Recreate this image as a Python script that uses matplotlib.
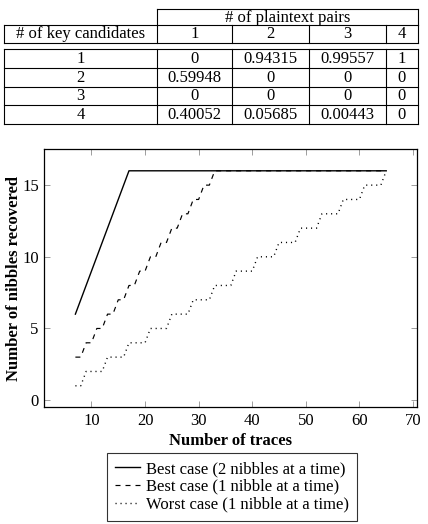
import matplotlib
matplotlib.use("Agg")
import matplotlib.pyplot as plt
from matplotlib.lines import Line2D

plt.rcParams["font.family"] = ["Liberation Serif", "DejaVu Serif"]
plt.rcParams["lines.scale_dashes"] = False

# ── table data ────────────────────────────────────────────────────────────────
col_group = "# of plaintext pairs"
row_header = "# of key candidates"
pair_counts = ["1", "2", "3", "4"]
key_counts = ["1", "2", "3", "4"]
probs = [
    ["0", "0.94315", "0.99557", "1"],
    ["0.59948", "0", "0", "0"],
    ["0", "0", "0", "0"],
    ["0.40052", "0.05685", "0.00443", "0"],
]

# ── curve data (traces -> nibbles recovered) ──────────────────────────────────
best2_x = [7, 8, 9, 10, 11, 12, 13, 14, 15, 16, 17, 65]
best2_y = [6, 7, 8, 9, 10, 11, 12, 13, 14, 15, 16, 16]

best1_x = [7, 8, 9, 10, 11, 12, 13, 14, 15, 16, 17, 18, 19, 20,
           21, 22, 23, 24, 25, 26, 27, 28, 29, 30, 31, 32, 33, 65]
best1_y = [3, 3, 4, 4, 5, 5, 6, 6, 7, 7, 8, 8, 9, 9,
           10, 10, 11, 11, 12, 12, 13, 13, 14, 14, 15, 15, 16, 16]

worst1_x = [7, 8, 9, 12, 13, 16, 17, 20, 21, 24, 25, 28, 29, 32, 33, 36,
            37, 40, 41, 44, 45, 48, 49, 52, 53, 56, 57, 60, 61, 64, 65]
worst1_y = [1, 1, 2, 2, 3, 3, 4, 4, 5, 5, 6, 6, 7, 7, 8, 8,
            9, 9, 10, 10, 11, 11, 12, 12, 13, 13, 14, 14, 15, 15, 16]

W, H = 428, 524
fig = plt.figure(figsize=(W / 100, H / 100), dpi=100)
FS = 12


def fx(px):
    return px / W


def fy(py):
    return 1 - py / H


def hline(y, x0, x1):
    fig.add_artist(Line2D([fx(x0), fx(x1)], [fy(y), fy(y)], color="black", lw=0.8,
                          transform=fig.transFigure))


def vline(x, y0, y1):
    fig.add_artist(Line2D([fx(x), fx(x)], [fy(y0), fy(y1)], color="black", lw=0.8,
                          transform=fig.transFigure))


# ── table ─────────────────────────────────────────────────────────────────────
xs = [4, 156.7, 232.3, 309, 385.7, 418.3]
hline(9, xs[1], xs[-1])
hline(25, xs[0], xs[-1])
hline(43.3, xs[0], xs[-1])
vline(xs[1], 9, 25)
vline(xs[-1], 9, 25)
for x in xs:
    vline(x, 25, 43.3)
fig.text(fx((xs[1] + xs[-1]) / 2), fy(17.5), col_group, ha="center", va="center", fontsize=FS)
fig.text(fx((xs[0] + xs[1]) / 2), fy(34.5), row_header, ha="center", va="center", fontsize=FS)
for i, lab in enumerate(pair_counts):
    fig.text(fx((xs[i + 1] + xs[i + 2]) / 2), fy(34.5), lab, ha="center", va="center", fontsize=FS)

row_lines = [49.3, 67.8, 86.5, 105.2, 123.9]
for y in row_lines:
    hline(y, xs[0], xs[-1])
for x in xs:
    vline(x, row_lines[0], row_lines[-1])
for r, lab in enumerate(key_counts):
    yc = (row_lines[r] + row_lines[r + 1]) / 2 + 0.5
    fig.text(fx((xs[0] + xs[1]) / 2), fy(yc), lab, ha="center", va="center", fontsize=FS)
    for c, val in enumerate(probs[r]):
        fig.text(fx((xs[c + 1] + xs[c + 2]) / 2), fy(yc), val, ha="center", va="center",
                 fontsize=FS)

# ── plot ──────────────────────────────────────────────────────────────────────
ax = fig.add_axes([fx(44.3), fy(407.3), fx(417.3) - fx(44.3), fy(149.3) - fy(407.3)])
l1, = ax.plot(best2_x, best2_y, color="black", lw=1.0)
l2, = ax.plot(best1_x, best1_y, color="black", lw=0.85, dashes=(3.6, 3.6))
l3, = ax.plot(worst1_x, worst1_y, color="black", lw=1.0, dashes=(0.8, 2.8))

ax.set_xlim(1.2, 70.8)
ax.set_ylim(-0.5, 17.5)
ax.set_xticks([10, 20, 30, 40, 50, 60, 70])
ax.set_yticks([0, 5, 10, 15])
ax.tick_params(direction="in", length=4, width=0.5, color="#777777", labelsize=FS,
               top=True, right=True, pad=4)
for s in ax.spines.values():
    s.set_linewidth(0.9)
ax.set_xlabel("Number of traces", fontsize=FS, fontweight="bold")
ax.set_ylabel("Number of nibbles recovered", fontsize=FS, fontweight="bold")
ax.xaxis.set_label_coords(0.5, -0.1)
ax.yaxis.set_label_coords(-0.06, 0.5)

leg = fig.legend([l1, l2, l3],
                 ["Best case (2 nibbles at a time)",
                  "Best case (1 nibble at a time)",
                  "Worst case (1 nibble at a time)"],
                 loc="upper left", bbox_to_anchor=(fx(106.7), fy(452.7)),
                 fontsize=FS, frameon=True, fancybox=False, handlelength=1.5,
                 handletextpad=0.35, borderpad=0.5, labelspacing=0.1, borderaxespad=0)
leg.get_frame().set_edgecolor("black")
leg.get_frame().set_linewidth(0.8)

fig.savefig("out.png", dpi=100)
